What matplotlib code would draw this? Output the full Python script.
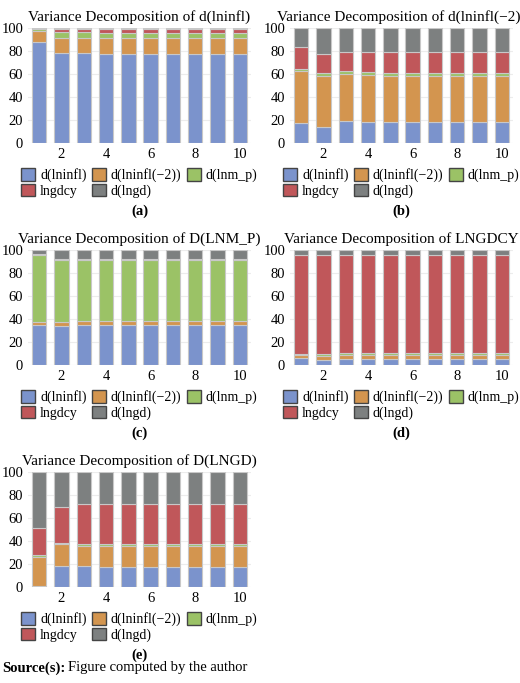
import numpy as np
import matplotlib
matplotlib.use("Agg")
import matplotlib.pyplot as plt
from matplotlib.patches import Patch

plt.rcParams['font.family'] = ['Liberation Serif', 'DejaVu Serif']

periods = np.arange(1, 11)
series = ["d(lninfl)", "d(lninfl(\u22122))", "d(lnm_p)", "lngdcy", "d(lngd)"]
colors = ["#7b93cc", "#d3954f", "#9bc266", "#c0575a", "#7d8080"]

def with_rest(blue, orange, green, red):
    grey = [100 - b - o - g - r for b, o, g, r in zip(blue, orange, green, red)]
    return [blue, orange, green, red, grey]

# panel (a) d(lninfl)
a_blue = [88, 78, 78, 77.5, 77.5, 77.5, 77.5, 77.5, 77.5, 77.5]
a_orange = [9, 13.5, 13.5, 13.5, 13.5, 13.5, 13.5, 13.5, 13.5, 13.5]
a_green = [2.5, 5, 5, 5, 5, 5, 5, 5, 5, 5]
a_red = [0.3, 2.5, 2.5, 3, 3, 3, 3, 3, 3, 3]
# panel (b) d(lninfl(-2))
b_blue = [17, 14, 19, 18.5, 18.5, 18.5, 18.5, 18.5, 18.5, 18.5]
b_orange = [46, 44.5, 41, 40.5, 40, 40, 40, 40, 40, 40]
b_green = [1, 2.5, 2.5, 2.5, 2.5, 2.5, 2.5, 2.5, 2.5, 2.5]
b_red = [19.5, 16.5, 17, 18, 18.5, 18.5, 18.5, 18.5, 18.5, 18.5]
# panel (c) D(LNM_P)
c_blue = [35, 34, 35, 35, 35, 35, 35, 35, 35, 35]
c_orange = [2, 3, 3, 3, 3, 3, 3, 3, 3, 3]
c_green = [59, 54, 53, 53, 53, 53, 53, 53, 53, 53]
c_red = [0.5, 1, 1, 1, 1, 1, 1, 1, 1, 1]
# panel (d) LNGDCY
d_blue = [6, 4.5, 5, 5, 5, 5, 5, 5, 5, 5]
d_orange = [3, 3, 3.5, 3.5, 3.5, 3.5, 3.5, 3.5, 3.5, 3.5]
d_green = [1, 2, 2, 2, 2, 2, 2, 2, 2, 2]
d_red = [86, 86, 85, 85, 85, 85, 85, 85, 85, 85]
# panel (e) D(LNGD)
e_blue = [1, 18.5, 18.5, 17.5, 17.5, 17.5, 17.5, 17.5, 17.5, 17.5]
e_orange = [25.5, 19, 17, 18, 18, 18, 18, 18, 18, 18]
e_green = [1, 1, 2, 1.5, 1.5, 1.5, 1.5, 1.5, 1.5, 1.5]
e_red = [24, 31, 34.5, 35, 35, 35, 35, 35, 35, 35]

panels = [
    ("Variance Decomposition of d(lninfl)", "(a)", with_rest(a_blue, a_orange, a_green, a_red), (28, 28)),
    ("Variance Decomposition of d(lninfl(\u22122))", "(b)", with_rest(b_blue, b_orange, b_green, b_red), (290, 28)),
    ("Variance Decomposition of D(LNM_P)", "(c)", with_rest(c_blue, c_orange, c_green, c_red), (28, 250)),
    ("Variance Decomposition of LNGDCY", "(d)", with_rest(d_blue, d_orange, d_green, d_red), (290, 250)),
    ("Variance Decomposition of D(LNGD)", "(e)", with_rest(e_blue, e_orange, e_green, e_red), (28, 472)),
]

W, H = 520, 683
fig = plt.figure(figsize=(W / 100, H / 100), dpi=100)
aw, ah = 223, 115

# legend is filled column by column; reorder so rows read like the reference
order = [0, 3, 1, 4, 2]

for title, cap, vals, (x0, y0) in panels:
    ax = fig.add_axes([x0 / W, 1 - (y0 + ah) / H, aw / W, ah / H])
    bottom = np.zeros(len(periods))
    for v, c in zip(vals, colors):
        ax.bar(periods, v, bottom=bottom, width=0.65, color=c, edgecolor="#c8c8c8", linewidth=0.8, zorder=3)
        bottom += np.array(v)
    ax.set_xlim(0.5, 10.5)
    ax.set_ylim(0, 100)
    ax.set_yticks(range(0, 101, 20))
    ax.set_xticks([2, 4, 6, 8, 10])
    ax.tick_params(length=0, labelsize=10.5)
    ax.grid(color="#ececec", linewidth=0.8, zorder=0)
    for s in ax.spines.values():
        s.set_visible(False)
    ax.set_title(title, fontsize=11, pad=5)
    handles = [Patch(facecolor=c, edgecolor="#444444", label=l) for c, l in zip(colors, series)]
    handles = [handles[i] for i in order]
    ax.legend(handles=handles, ncol=3, loc="upper center", bbox_to_anchor=(0.5, -0.17),
              frameon=False, fontsize=10, handlelength=1.0, handleheight=1.0,
              columnspacing=0.4, handletextpad=0.35, labelspacing=0.1, borderaxespad=0)
    fig.text((x0 + aw / 2) / W, 1 - (y0 + ah + 68) / H, cap, ha="center", va="center",
             fontsize=10.5, fontweight="bold")

fig.text(2 / W, 1 - 668 / H, "Source(s):", fontsize=10.5, fontweight="bold", va="center")
fig.text(68 / W, 1 - 668 / H, "Figure computed by the author", fontsize=10.5, va="center")

fig.savefig("out.png", dpi=100)
